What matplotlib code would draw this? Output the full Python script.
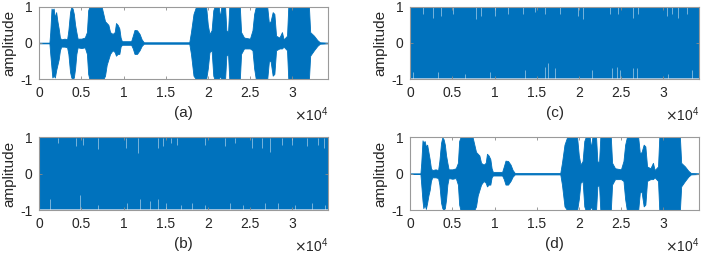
import numpy as np
import matplotlib.pyplot as plt

plt.rcParams['font.family'] = ['Liberation Sans', 'DejaVu Sans']
plt.rcParams['axes.unicode_minus'] = False

BLUE = '#0072BD'
N_SAMPLES = 34300

# speech envelope (a): sample position, upper and lower amplitude
speech_a_pos = [0, 1200, 1300, 1450, 1550, 1700, 1850, 2000, 2150, 2300, 2450, 2600,
                3000, 3300, 3450, 3650, 3800, 3950, 4100, 4250, 4400, 4550, 5000, 5400,
                5650, 5800, 5950, 7400, 7600, 7800, 8000, 8200, 8400, 8700, 8950, 9100,
                9300, 9500, 9650, 9800, 10900, 11100, 11300, 11600, 11900, 12150, 12400,
                17800, 18000, 18300, 18600, 19800, 20000, 20200, 20450, 20650, 20800,
                21300, 21450, 21600, 22050, 22200, 22400, 22550, 23800, 23950, 24300,
                25000, 25300, 25500, 25700, 27050, 27250, 27450, 27700, 27900, 28100,
                28500, 28800, 29000, 29400, 29550, 32000, 32150, 32600, 33000, 33300, 34300]
speech_a_top = [0.01, 0.01, 0.3, 0.95, 0.9, 0.95, 0.7, 0.85, 0.6, 0.4, 0.15, 0.1,
                0.12, 0.1, 0.35, 0.85, 1.0, 0.95, 0.8, 0.5, 0.3, 0.12, 0.12, 0.15,
                0.3, 0.9, 1.0, 1.0, 0.8, 0.6, 0.55, 0.5, 0.3, 0.25, 0.3, 0.55,
                0.5, 0.4, 0.15, 0.05, 0.05, 0.2, 0.36, 0.35, 0.25, 0.1, 0.02,
                0.02, 0.3, 0.8, 1.0, 1.0, 0.5, 0.25, 0.35, 0.9, 1.0,
                1.0, 0.7, 1.0, 1.0, 0.35, 0.3, 1.0, 1.0, 0.3, 0.15,
                0.12, 0.35, 0.8, 1.0, 1.0, 0.55, 0.6, 0.85, 0.8, 0.2,
                0.15, 0.3, 0.1, 0.2, 1.0, 1.0, 0.3, 0.2, 0.08, 0.02, 0.01]
speech_a_bot = [-0.01, -0.01, -0.3, -0.7, -0.95, -0.9, -0.95, -0.75, -0.6, -0.45, -0.2, -0.1,
                -0.1, -0.12, -0.3, -0.8, -0.95, -1.0, -0.95, -0.7, -0.3, -0.12, -0.14, -0.12,
                -0.3, -0.85, -1.0, -1.0, -1.0, -0.9, -0.6, -0.45, -0.3, -0.2, -0.25, -0.35,
                -0.3, -0.3, -0.1, -0.05, -0.05, -0.15, -0.3, -0.3, -0.2, -0.08, -0.02,
                -0.02, -0.3, -0.9, -1.0, -1.0, -0.7, -0.25, -0.2, -0.9, -1.0,
                -1.0, -0.9, -1.0, -1.0, -0.35, -0.3, -1.0, -1.0, -0.3, -0.15,
                -0.15, -0.2, -0.7, -1.0, -1.0, -0.5, -0.5, -0.9, -0.85, -0.2,
                -0.15, -0.15, -0.1, -0.2, -1.0, -1.0, -0.35, -0.2, -0.08, -0.02, -0.01]

# speech envelope (d): recovered signal, nearly the same shape
speech_d_top = [0.01, 0.01, 0.3, 0.92, 0.85, 0.9, 0.75, 0.8, 0.6, 0.4, 0.15, 0.1,
                0.12, 0.1, 0.35, 0.85, 1.0, 0.95, 0.8, 0.5, 0.3, 0.12, 0.12, 0.15,
                0.3, 0.9, 1.0, 1.0, 0.8, 0.6, 0.55, 0.5, 0.3, 0.25, 0.3, 0.55,
                0.5, 0.4, 0.15, 0.05, 0.05, 0.2, 0.36, 0.35, 0.25, 0.1, 0.02,
                0.02, 0.3, 0.8, 1.0, 1.0, 0.5, 0.25, 0.35, 0.9, 1.0,
                1.0, 0.7, 1.0, 1.0, 0.35, 0.3, 1.0, 1.0, 0.3, 0.15,
                0.12, 0.35, 0.8, 1.0, 1.0, 0.55, 0.6, 0.8, 0.75, 0.2,
                0.15, 0.3, 0.1, 0.2, 1.0, 1.0, 0.3, 0.2, 0.08, 0.02, 0.01]
speech_d_bot = [-0.01, -0.01, -0.3, -0.75, -0.95, -0.85, -0.97, -0.8, -0.6, -0.45, -0.2, -0.1,
                -0.1, -0.12, -0.3, -0.8, -0.95, -1.0, -0.95, -0.7, -0.3, -0.12, -0.14, -0.12,
                -0.3, -0.85, -1.0, -1.0, -1.0, -0.9, -0.6, -0.45, -0.3, -0.2, -0.25, -0.35,
                -0.3, -0.3, -0.1, -0.05, -0.05, -0.15, -0.3, -0.3, -0.2, -0.08, -0.02,
                -0.02, -0.3, -0.9, -1.0, -1.0, -0.7, -0.25, -0.2, -0.9, -1.0,
                -1.0, -0.9, -1.0, -1.0, -0.35, -0.3, -1.0, -1.0, -0.3, -0.15,
                -0.15, -0.2, -0.7, -1.0, -1.0, -0.5, -0.5, -0.9, -0.85, -0.2,
                -0.15, -0.15, -0.1, -0.2, -1.0, -1.0, -0.35, -0.2, -0.08, -0.02, -0.01]

# noise-like signals (b), (c): band level and the spots where the edge dips in
noise_level = 0.97
b_top_dip_pos = [2220, 4390, 5180, 6960, 10320, 11710, 14080, 14670, 15660, 16370,
                 19660, 22030, 23220, 25190, 26380, 27370, 28750, 29940, 31720, 33100, 33810]
b_top_dip_val = [0.85, 0.76, 0.8, 0.67, 0.72, 0.58, 0.72, 0.76, 0.85, 0.8,
                 0.8, 0.75, 0.85, 0.7, 0.7, 0.6, 0.8, 0.8, 0.75, 0.8, 0.7]
b_bot_dip_pos = [1230, 4790, 6960, 10400, 11910, 13100, 14080, 15070, 16840,
                 18080, 19660, 22620, 24200, 26770, 28350, 30330, 32310, 33890]
b_bot_dip_val = [-0.7, -0.6, -0.85, -0.8, -0.7, -0.75, -0.7, -0.8, -0.85,
                 -0.8, -0.85, -0.8, -0.85, -0.8, -0.8, -0.85, -0.8, -0.85]

c_top_dip_pos = [1510, 2690, 3680, 5070, 7830, 8420, 10010, 11590, 13370, 14760, 15940,
                 17760, 19930, 20520, 23690, 24670, 26450, 27050, 30420, 31010, 31800, 32790]
c_top_dip_val = [0.8, 0.7, 0.75, 0.8, 0.65, 0.75, 0.75, 0.8, 0.8, 0.85, 0.8,
                 0.8, 0.75, 0.65, 0.8, 0.8, 0.7, 0.8, 0.75, 0.8, 0.7, 0.8]
c_bot_dip_pos = [320, 3290, 6450, 9420, 13570, 15940, 16400, 17130,
                 21520, 23890, 24480, 24870, 26450, 26860, 30610, 33380]
c_bot_dip_val = [-0.8, -0.8, -0.85, -0.8, -0.75, -0.65, -0.55, -0.7,
                 -0.75, -0.7, -0.65, -0.75, -0.7, -0.7, -0.85, -0.75]

x_ticks = [0, 5000, 10000, 15000, 20000, 25000, 30000]
x_tick_labels = ['0', '0.5', '1', '1.5', '2', '2.5', '3']
panel_labels = ['(a)', '(b)', '(c)', '(d)']


def style_axes(ax, label):
    ax.set_xlim(0, N_SAMPLES)
    ax.set_ylim(-1, 1)
    ax.set_xticks(x_ticks)
    ax.set_xticklabels(x_tick_labels)
    ax.set_yticks([-1, 0, 1])
    ax.tick_params(direction='in', top=True, right=True, length=2.5, width=0.6,
                   color='#8a8a8a', labelsize=10, pad=5, labelcolor='#262626')
    for sp in ax.spines.values():
        sp.set_color('#9a9a9a')
        sp.set_linewidth(0.8)
    ax.set_ylabel('amplitude', fontsize=11, color='#262626')
    ax.yaxis.set_label_coords(-0.078, 0.5)
    ax.set_xlabel(label, fontsize=11, color='#262626', va='top')
    ax.xaxis.set_label_coords(0.5, -0.37)
    ax.text(1.0, -0.575, r'$\times\mathregular{10^{4}}$', transform=ax.transAxes,
            ha='right', va='baseline', fontsize=10, color='#262626')


def draw_speech(ax, top, bot):
    ax.fill_between(speech_a_pos, bot, top, color=BLUE, linewidth=0.6, edgecolor=BLUE)


def draw_noise(ax, tpos, tval, bpos, bval):
    ax.fill_between([0, N_SAMPLES], [-noise_level, -noise_level], [noise_level, noise_level],
                    color=BLUE, linewidth=0)
    # light fringe along the band edges
    ax.fill_between([0, N_SAMPLES], [noise_level, noise_level], [0.99, 0.99],
                    color='#9cc3e0', linewidth=0)
    ax.fill_between([0, N_SAMPLES], [-0.99, -0.99], [-noise_level, -noise_level],
                    color='#9cc3e0', linewidth=0)
    ax.vlines(tpos, tval, 0.99, color='#e6f0f8', alpha=0.6, linewidth=0.6)
    ax.vlines(bpos, -0.99, bval, color='#e6f0f8', alpha=0.6, linewidth=0.6)


fig = plt.figure(figsize=(7.03, 2.64), dpi=100)
W = 289 / 703
H = 72.6 / 264
ax_a = fig.add_axes([39.3 / 703, 1 - 79.3 / 264, W, H])
ax_c = fig.add_axes([410.3 / 703, 1 - 79.3 / 264, W, H])
ax_b = fig.add_axes([39.3 / 703, 1 - 210 / 264, W, H])
ax_d = fig.add_axes([410.3 / 703, 1 - 210 / 264, W, H])

draw_speech(ax_a, speech_a_top, speech_a_bot)
draw_noise(ax_b, b_top_dip_pos, b_top_dip_val, b_bot_dip_pos, b_bot_dip_val)
draw_noise(ax_c, c_top_dip_pos, c_top_dip_val, c_bot_dip_pos, c_bot_dip_val)
draw_speech(ax_d, speech_d_top, speech_d_bot)

for ax, lab in zip([ax_a, ax_b, ax_c, ax_d], panel_labels):
    style_axes(ax, lab)

fig.savefig('out.png', dpi=100)
